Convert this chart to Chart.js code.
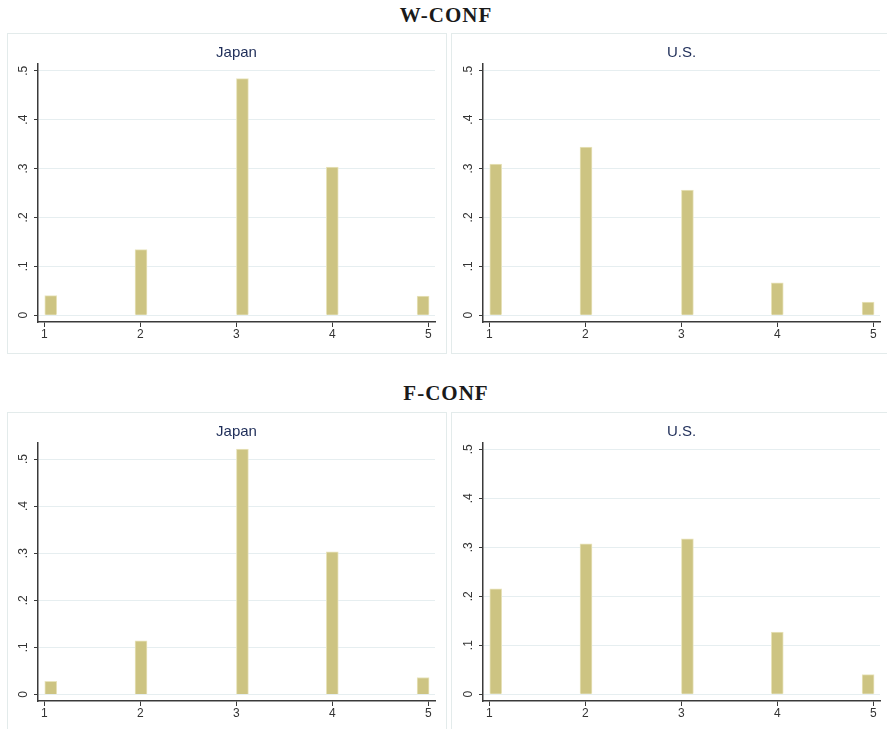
<!DOCTYPE html>
<html>
<head>
<meta charset="UTF-8">
<title>conf histograms</title>
<script src="https://cdn.jsdelivr.net/npm/chart.js@4.4.0/dist/chart.umd.min.js"></script>
<style>
body{
	margin: 0;
	width: 887px;
	height: 729px;
	overflow: hidden;
	background-color: white;
	position: relative;
}
.head{
	position: absolute;
	left: 0;
	width: 892px;
	text-align: center;
	font-family: "Liberation Serif", serif;
	font-weight: bold;
	font-size: 21px;
	letter-spacing: 1px;
	color: #1a1a1a;
	line-height: 24px;
}
.panel{
	position: absolute;
	border: 1px solid #e3ebeb;
}
</style>
</head>
<body>

<div class="head" style="top: 3px;">W-CONF</div>
<div class="head" style="top: 381px;">F-CONF</div>

<div class="panel" style="left: 7px; top: 33px;"><canvas id="c1" width="438" height="319"></canvas></div>
<div class="panel" style="left: 451px; top: 33px;"><canvas id="c2" width="435" height="319"></canvas></div>
<div class="panel" style="left: 7px; top: 412px;"><canvas id="c3" width="438" height="319"></canvas></div>
<div class="panel" style="left: 451px; top: 412px;"><canvas id="c4" width="435" height="319"></canvas></div>

<script>
// answer categories and where each bar sits on the x axis
const scoreTicks = [1, 2, 3, 4, 5];
const barPos = [1.068, 2.008, 3.064, 4.0, 4.946];
// y axis (fraction)
const yTicks = [0, 0.1, 0.2, 0.3, 0.4, 0.5];
const yTickLabels = ['0', '.1', '.2', '.3', '.4', '.5'];
const yMaxs = [0.514, 0.514, 0.534, 0.513];

// W-CONF
const wconfJapan = [0.040, 0.134, 0.484, 0.303, 0.039];
const wconfUS = [0.309, 0.344, 0.256, 0.066, 0.027];
// F-CONF
const fconfJapan = [0.028, 0.114, 0.521, 0.303, 0.036];
const fconfUS = [0.215, 0.307, 0.317, 0.127, 0.040];

const titles = ['Japan', 'U.S.', 'Japan', 'U.S.'];
const series = [wconfJapan, wconfUS, fconfJapan, fconfUS];

const axisColor = '#3a3a3a';
const gridColor = '#e6eef0';
const barColor = '#cdc482';
const fontFam = '"Liberation Sans", Arial, sans-serif';

// y labels in stata are turned sideways, chart.js won't rotate y ticks so draw them here
const sideLabels = {
	id: 'sideLabels',
	afterDraw(chart){
		const ctx = chart.ctx;
		const s = chart.scales.y;
		ctx.save();
		ctx.font = '12px ' + fontFam;
		ctx.fillStyle = '#333';
		ctx.textAlign = 'center';
		ctx.textBaseline = 'middle';
		yTicks.forEach(function(v, i){
			const py = s.getPixelForValue(v);
			ctx.save();
			ctx.translate(chart.chartArea.left - 14, py);
			ctx.rotate(-Math.PI / 2);
			ctx.fillText(yTickLabels[i], 0, 0);
			ctx.restore();
		});
		ctx.restore();
	}
};

function makeChart(id, k){
	const leftW = (k % 2 == 0) ? 30 : 31;
	const rightPad = (k % 2 == 0) ? 11 : 7;
	new Chart(document.getElementById(id), {
		type: 'bar',
		data: {
			datasets: [{
				data: series[k].map(function(v, i){ return {x: barPos[i], y: v}; }),
				backgroundColor: barColor,
				borderColor: '#e9e4bd',
				borderWidth: 1,
				barThickness: 12
			}]
		},
		options: {
			responsive: false,
			animation: false,
			layout: {padding: {left: 0, right: rightPad, top: 0, bottom: 0}},
			plugins: {
				legend: {display: false},
				tooltip: {enabled: false},
				title: {
					display: true,
					text: titles[k],
					fullSize: false,
					color: '#1e2d58',
					font: {family: fontFam, size: 15, weight: 'normal'},
					padding: {top: 10, bottom: 2}
				}
			},
			scales: {
				x: {
					type: 'linear',
					min: 0.935,
					max: 5.07,
					offset: false,
					afterBuildTicks: function(s){ s.ticks = scoreTicks.map(function(v){ return {value: v}; }); },
					afterFit: function(s){ s.height = 31; },
					ticks: {color: '#333', font: {family: fontFam, size: 12}, padding: 0, maxRotation: 0, autoSkip: false},
					grid: {offset: false, drawOnChartArea: false, tickLength: 5, tickColor: axisColor, tickWidth: 1},
					border: {color: axisColor, width: 1.5}
				},
				y: {
					min: -0.014,
					max: yMaxs[k],
					afterBuildTicks: function(s){ s.ticks = yTicks.map(function(v){ return {value: v}; }); },
					afterFit: function(s){ s.width = leftW; },
					ticks: {display: false},
					grid: {color: gridColor, lineWidth: 1, tickLength: 4, tickColor: axisColor},
					border: {color: axisColor, width: 1.5}
				}
			}
		},
		plugins: [sideLabels]
	});
}

makeChart('c1', 0);
makeChart('c2', 1);
makeChart('c3', 2);
makeChart('c4', 3);
</script>
</body>
</html>
